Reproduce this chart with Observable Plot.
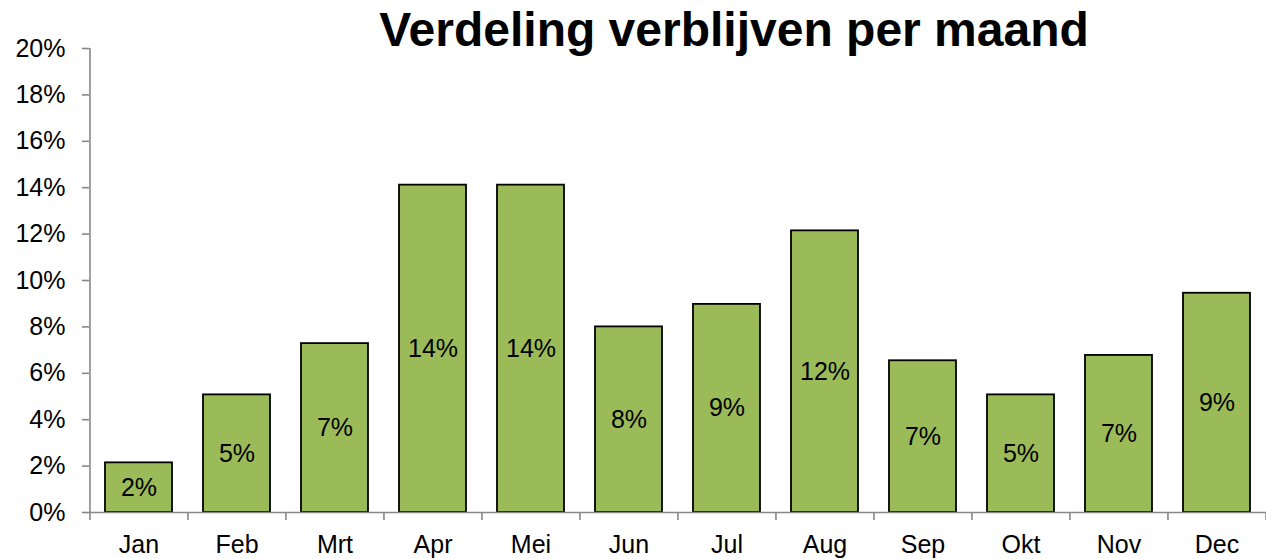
<!DOCTYPE html>
<html>
<head>
<meta charset="utf-8">
<script src="https://cdn.jsdelivr.net/npm/d3@7"></script>
<script src="https://cdn.jsdelivr.net/npm/@observablehq/plot@0.6"></script>
<style>
  html, body { margin: 0; padding: 0; background: #fff; overflow: hidden; }
  #wrap { position: relative; width: 1266px; height: 559px; }
  #title {
    position: absolute; left: 234px; width: 1000px; top: 6px;
    text-align: center; font-family: "Liberation Sans", Arial, sans-serif;
    font-weight: bold; font-size: 48px; line-height: 48px; color: #000; margin: 0;
  }
  #chart { position: absolute; left: 0; top: 0; }
</style>
</head>
<body>
<div id="wrap">
  <div id="chart"></div>
  <h1 id="title">Verdeling verblijven per maand</h1>
</div>
<script>
const months = ["Jan", "Feb", "Mrt", "Apr", "Mei", "Jun", "Jul", "Aug", "Sep", "Okt", "Nov", "Dec"];
const shares = [2.14, 5.07, 7.28, 14.11, 14.11, 8.0, 8.97, 12.14, 6.54, 5.07, 6.77, 9.45];
const yTicks = [0, 2, 4, 6, 8, 10, 12, 14, 16, 18, 20];

const data = months.map((m, i) => ({month: m, value: shares[i]}));

const W = 1266, H = 559, mL = 89, mR = 0;
const step = (W - mL - mR) / months.length;
const gray = "#888888";
const font = "Liberation Sans, Arial, sans-serif";

const chart = Plot.plot({
  width: W,
  height: H,
  marginLeft: mL,
  marginRight: mR,
  marginTop: 48,
  marginBottom: 47,
  style: {fontFamily: font, fontSize: "25px", color: "#000", background: "#fff"},
  x: {domain: months, paddingInner: 0.32, paddingOuter: 0.16, label: null},
  y: {domain: [0, 20], label: null},
  marks: [
    Plot.barY(data, {x: "month", y: "value", fill: "#9BBB59", stroke: "#000", strokeWidth: 1.8}),
    Plot.text(data, {x: "month", y: d => d.value / 2, text: d => Math.round(d.value) + "%", fontSize: 25, fill: "#000"}),
    Plot.ruleY([0], {stroke: gray, strokeWidth: 1.6}),
    Plot.ruleX([months[0]], {x: d => d, y1: 0, y2: 20, dx: -step / 2, stroke: gray, strokeWidth: 1.6}),
    Plot.ruleX(months, {x: d => d, y1: 0, y2: -0.35, dx: -step / 2, stroke: gray, strokeWidth: 1.6}),
    Plot.ruleX([months[months.length - 1]], {x: d => d, y1: 0, y2: -0.35, dx: step / 2, stroke: gray, strokeWidth: 1.6}),
    Plot.axisY({ticks: yTicks, tickFormat: d => d + "%", tickSize: 7, tickPadding: 17, stroke: gray, strokeWidth: 1.6, strokeOpacity: 1, fontSize: 25, color: "#000", label: null}),
    Plot.axisX({tickSize: 0, tickPadding: 23, fontSize: 25, label: null})
  ]
});
document.getElementById("chart").append(chart);
</script>
</body>
</html>
